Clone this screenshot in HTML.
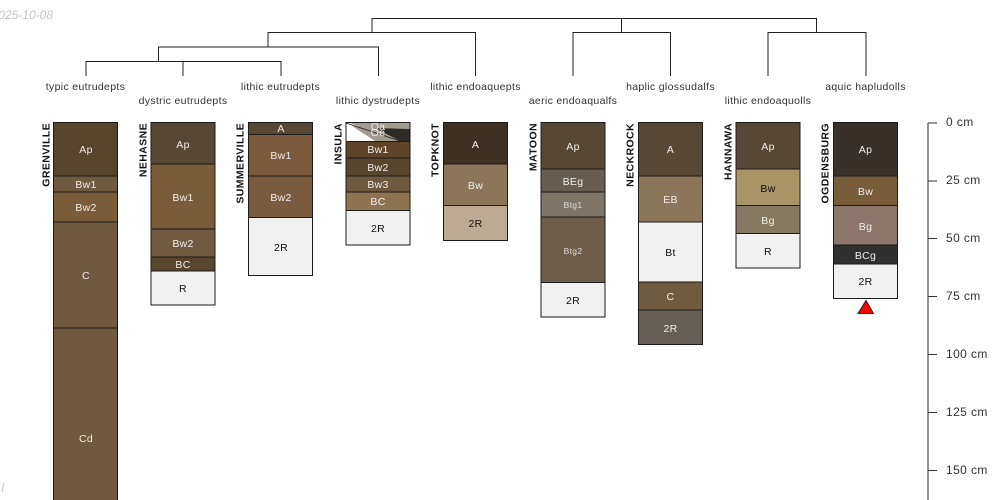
<!DOCTYPE html>
<html><head><meta charset="utf-8"><style>
html,body{margin:0;padding:0;background:#fff}
svg{display:block}
text{font-family:"Liberation Sans",sans-serif}
.t{font-size:10.5px;text-anchor:middle;fill:#333;letter-spacing:.33px}
.h{font-size:10.5px;text-anchor:middle;fill:#eee;letter-spacing:.3px}
.s{font-size:10.5px;font-weight:bold;text-anchor:end;fill:#111;letter-spacing:.4px}
.a{font-size:12px;fill:#333;letter-spacing:.4px}
rect{stroke:#1c1c1c;stroke-width:1}
</style></head><body>
<svg width="1000" height="500" viewBox="0 0 1000 500" xmlns="http://www.w3.org/2000/svg">
<text x="53" y="19" text-anchor="end" font-size="12" font-style="italic" fill="#c4c4c4">2025-10-08</text>
<text x="4" y="492" text-anchor="end" font-size="12" font-style="italic" fill="#c4c4c4">l</text>

<g fill="none" stroke="#222" stroke-width="1">
<path d="M372 32V18.500H816.500V32"/>
<path d="M621.500 18.500V32.500"/>
<path d="M268 47V32.500H475.500V76"/>
<path d="M158.500 61V47H378.500V76"/>
<path d="M86 76V61.500H281V76"/>
<path d="M183 61.500V76"/>
<path d="M573 76V32.500H670.500V76"/>
<path d="M768 76V32.500H866V76"/>
</g>

<g class="lab">
<text class="t" x="85.500" y="90">typic eutrudepts</text>
<text class="t" x="183" y="104">dystric eutrudepts</text>
<text class="t" x="280.500" y="90">lithic eutrudepts</text>
<text class="t" x="378" y="104">lithic dystrudepts</text>
<text class="t" x="475.500" y="90">lithic endoaquepts</text>
<text class="t" x="573" y="104">aeric endoaqualfs</text>
<text class="t" x="670.500" y="90">haplic glossudalfs</text>
<text class="t" x="768" y="104">lithic endoaquolls</text>
<text class="t" x="865.500" y="90">aquic hapludolls</text>
</g>

<text class="s" transform="translate(49.500,123) rotate(-90)">GRENVILLE</text>
<text class="s" transform="translate(146.500,123) rotate(-90)">NEHASNE</text>
<text class="s" transform="translate(243.500,123) rotate(-90)">SUMMERVILLE</text>
<text class="s" transform="translate(341.500,123) rotate(-90)">INSULA</text>
<text class="s" transform="translate(438.500,123) rotate(-90)">TOPKNOT</text>
<text class="s" transform="translate(536.500,123) rotate(-90)">MATOON</text>
<text class="s" transform="translate(633.500,123) rotate(-90)">NECKROCK</text>
<text class="s" transform="translate(731.500,123) rotate(-90)">HANNAWA</text>
<text class="s" transform="translate(828.500,123) rotate(-90)">OGDENSBURG</text>

<!-- Grenville -->
<rect x="53.500" y="122.500" width="64" height="53.500" fill="#57452e"/>
<rect x="53.500" y="176" width="64" height="16" fill="#6d5a40"/>
<rect x="53.500" y="192" width="64" height="30" fill="#7a5c38"/>
<rect x="53.500" y="222" width="64" height="106" fill="#705a3f"/>
<rect x="53.500" y="328" width="64" height="180" fill="#705a3f"/>
<text class="h" x="86" y="153">Ap</text><text class="h" x="86" y="188">Bw1</text><text class="h" x="86" y="211">Bw2</text><text class="h" x="86" y="279">C</text><text class="h" x="86" y="442">Cd</text>

<!-- Nehasne -->
<rect x="151" y="122.500" width="64" height="41.500" fill="#574735"/>
<rect x="151" y="164" width="64" height="65" fill="#795c38"/>
<rect x="151" y="229" width="64" height="28" fill="#705a40"/>
<rect x="151" y="257" width="64" height="14" fill="#57452e"/>
<rect x="151" y="271" width="64" height="34" fill="#f1f1f1"/>
<text class="h" x="183" y="148">Ap</text><text class="h" x="183" y="201">Bw1</text><text class="h" x="183" y="247">Bw2</text><text class="h" x="183" y="268">BC</text><text class="t" style="fill:#111" x="183" y="292">R</text>

<!-- Summerville -->
<rect x="248.500" y="122.500" width="64" height="12" fill="#574735"/>
<rect x="248.500" y="134.500" width="64" height="41.500" fill="#7d5a3b"/>
<rect x="248.500" y="176" width="64" height="41.500" fill="#7b5b3d"/>
<rect x="248.500" y="217.500" width="64" height="58" fill="#f1f1f1"/>
<text class="h" x="281" y="132">A</text><text class="h" x="281" y="159">Bw1</text><text class="h" x="281" y="201">Bw2</text><text class="t" style="fill:#111" x="281" y="251">2R</text>

<!-- Insula -->
<rect x="346" y="122.500" width="64" height="19" fill="#fff"/>
<polygon points="350,123 410,123 410,129 375,128 362,128" fill="#a39b8e"/>
<polygon points="375,128 410,129 410,141 396,141" fill="#2e2a25"/>
<polygon points="352,126 375,128 400,141 375,141" fill="#a39b8e"/>
<path d="M346 123L400 141" stroke="#1c1c1c" stroke-width="0.800" fill="none"/>
<rect x="346" y="122.500" width="64" height="19" fill="none"/>
<rect x="346" y="141.500" width="64" height="16.500" fill="#5d4428"/>
<rect x="346" y="158" width="64" height="18" fill="#57452e"/>
<rect x="346" y="176" width="64" height="16" fill="#6d5840"/>
<rect x="346" y="192" width="64" height="18.500" fill="#8d744e"/>
<rect x="346" y="210.500" width="64" height="34.500" fill="#f1f1f1"/>
<text class="h" x="378" y="130">Oa</text><text class="h" x="378" y="136">Oe</text><text class="h" x="378" y="153">Bw1</text><text class="h" x="378" y="171">Bw2</text><text class="h" x="378" y="188">Bw3</text><text class="h" x="378" y="205">BC</text><text class="t" style="fill:#111" x="378" y="232">2R</text>

<!-- Topknot -->
<rect x="443.500" y="122.500" width="64" height="41.500" fill="#3e3022"/>
<rect x="443.500" y="164" width="64" height="41.500" fill="#8b7659"/>
<rect x="443.500" y="205.500" width="64" height="35" fill="#bcaa95"/>
<text class="h" x="475.500" y="148">A</text><text class="h" x="475.500" y="189">Bw</text><text class="t" style="fill:#111" x="475.500" y="227">2R</text>

<!-- Matoon -->
<rect x="541" y="122.500" width="64" height="46.500" fill="#574735"/>
<rect x="541" y="169" width="64" height="23" fill="#675d50"/>
<rect x="541" y="192" width="64" height="25" fill="#7f7569"/>
<rect x="541" y="217" width="64" height="65.500" fill="#6e5d4a"/>
<rect x="541" y="282.500" width="64" height="34.500" fill="#f1f1f1"/>
<text class="h" x="573" y="150">Ap</text><text class="h" x="573" y="185">BEg</text><text class="h" style="font-size:8.500px;fill:#ddd" x="573" y="208">Btg1</text><text class="h" style="font-size:8.500px;fill:#ddd" x="573" y="254">Btg2</text><text class="t" style="fill:#111" x="573" y="304">2R</text>

<!-- Neckrock -->
<rect x="638.500" y="122.500" width="64" height="53.500" fill="#574735"/>
<rect x="638.500" y="176" width="64" height="46" fill="#8b7659"/>
<rect x="638.500" y="222" width="64" height="60" fill="#f1f1f1"/>
<rect x="638.500" y="282" width="64" height="28" fill="#705a40"/>
<rect x="638.500" y="310" width="64" height="34.500" fill="#675f55"/>
<text class="h" x="670.500" y="153">A</text><text class="h" x="670.500" y="203">EB</text><text class="t" style="fill:#111" x="670.500" y="256">Bt</text><text class="h" x="670.500" y="300">C</text><text class="h" x="670.500" y="332">2R</text>

<!-- Hannawa -->
<rect x="736" y="122.500" width="64" height="46.500" fill="#574735"/>
<rect x="736" y="169" width="64" height="36.500" fill="#a89465"/>
<rect x="736" y="205.500" width="64" height="28" fill="#857a61"/>
<rect x="736" y="233.500" width="64" height="34.500" fill="#f1f1f1"/>
<text class="h" x="768" y="150">Ap</text><text class="t" style="fill:#111" x="768" y="192">Bw</text><text class="h" x="768" y="224">Bg</text><text class="t" style="fill:#111" x="768" y="255">R</text>

<!-- Ogdensburg -->
<rect x="833.500" y="122.500" width="64" height="53.500" fill="#3a302a"/>
<rect x="833.500" y="176" width="64" height="29.500" fill="#795c38"/>
<rect x="833.500" y="205.500" width="64" height="39.500" fill="#8d776d"/>
<rect x="833.500" y="245" width="64" height="19" fill="#303030"/>
<rect x="833.500" y="264" width="64" height="34.500" fill="#f1f1f1"/>
<text class="h" x="865.500" y="153">Ap</text><text class="h" x="865.500" y="195">Bw</text><text class="h" x="865.500" y="230">Bg</text><text class="h" x="865.500" y="259">BCg</text><text class="t" style="fill:#111" x="865.500" y="285">2R</text>
<polygon points="866,300.500 873.500,313.500 858,313.500" fill="#f00" stroke="#222" stroke-width="1"/>

<!-- Axis -->
<path d="M928 500V123" fill="none" stroke="#666" stroke-width="1.400"/>
<path d="M928 123H937M928 181H937M928 238.500H937M928 296.500H937M928 354.500H937M928 412.500H937M928 470.500H937" fill="none" stroke="#333" stroke-width="1"/>
<text class="a" x="946" y="126">0 cm</text>
<text class="a" x="946" y="184">25 cm</text>
<text class="a" x="946" y="242">50 cm</text>
<text class="a" x="946" y="300">75 cm</text>
<text class="a" x="946" y="358">100 cm</text>
<text class="a" x="946" y="416">125 cm</text>
<text class="a" x="946" y="474">150 cm</text>
</svg>
</body></html>
